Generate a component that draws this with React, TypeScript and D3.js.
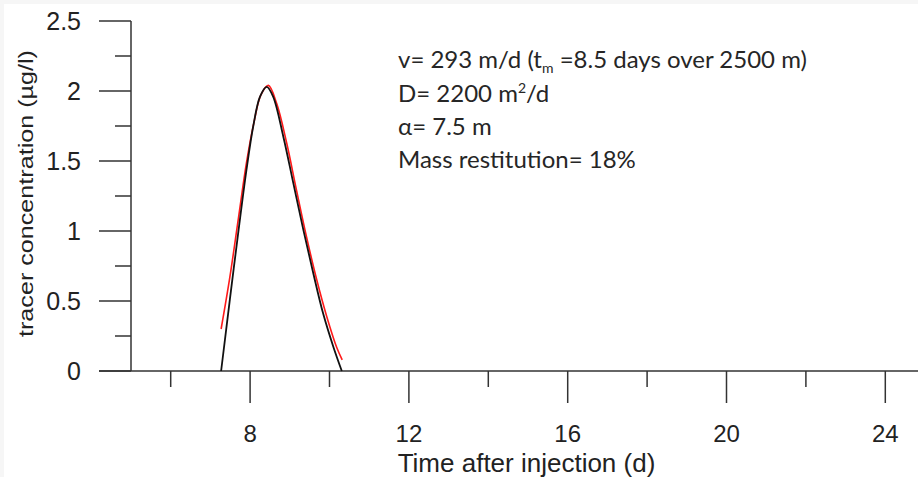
import React from "react";
import * as d3 from "d3";

// Observed (black) and fitted (red) tracer breakthrough curves
const observedT = [7.27, 7.49, 7.68, 7.91, 8.08, 8.25, 8.42, 8.58, 8.84, 9.09, 9.34, 9.59, 9.84, 10.1, 10.31];
const observedC = [0, 0.51, 0.94, 1.44, 1.75, 1.96, 2.03, 1.96, 1.67, 1.34, 1.01, 0.7, 0.41, 0.17, 0];

const fittedT = [7.27, 7.49, 7.7, 7.91, 8.1, 8.27, 8.46, 8.67, 8.92, 9.17, 9.42, 9.68, 9.93, 10.18, 10.32];
const fittedC = [0.3, 0.67, 1.08, 1.49, 1.78, 1.97, 2.04, 1.91, 1.63, 1.29, 0.96, 0.65, 0.39, 0.17, 0.08];

const xMajorTicks = [8, 12, 16, 20, 24];
const xMinorTicks = [6, 10, 14, 18, 22];
const yMajorTicks = [0, 0.5, 1, 1.5, 2, 2.5];
const yMinorTicks = [0.25, 0.75, 1.25, 1.75, 2.25];
const yTickLabels = ["0", "0.5", "1", "1.5", "2", "2.5"];

const xTitle = "Time after injection (d)";
const yTitle = "tracer concentration (µg/l)";

export default function App() {
  const W = 918;
  const H = 477;
  const x = d3.scaleLinear().domain([5, 25]).range([131, 131 + 20 * 39.7]);
  const y = d3.scaleLinear().domain([0, 2.5]).range([371, 21]);

  const line = d3
    .line<[number, number]>()
    .x((d) => x(d[0]))
    .y((d) => y(d[1]))
    .curve(d3.curveCatmullRom.alpha(0.5));

  const obs = observedT.map((t, i) => [t, observedC[i]] as [number, number]);
  const fit = fittedT.map((t, i) => [t, fittedC[i]] as [number, number]);

  const axisColor = "#333";
  const tickFont = "'Liberation Sans', Arial, sans-serif";
  const noteFont = "Lato, 'Open Sans', sans-serif";
  const noteX = 398;

  return (
    <svg
      width={W}
      height={H}
      style={{ position: "absolute", left: 0, top: 0, background: "#fff" }}
    >
      <rect x={0} y={0} width={W} height={4} fill="#f6f6f6" />
      <rect x={0} y={0} width={4} height={H} fill="#f6f6f6" />

      {/* Y axis */}
      <line x1={x(5)} x2={x(5)} y1={y(2.5)} y2={y(0)} stroke={axisColor} strokeWidth={1.5} />
      {yMajorTicks.map((v) => (
        <line key={"ym" + v} x1={99} x2={x(5)} y1={y(v)} y2={y(v)} stroke={axisColor} strokeWidth={1.5} />
      ))}
      {yMinorTicks.map((v) => (
        <line key={"yn" + v} x1={115} x2={x(5)} y1={y(v)} y2={y(v)} stroke={axisColor} strokeWidth={1.5} />
      ))}
      {yMajorTicks.map((v, i) => (
        <text
          key={"yl" + v}
          x={81}
          y={y(v)}
          dy="0.36em"
          textAnchor="end"
          fontFamily={tickFont}
          fontSize={25}
          fill="#222"
        >
          {yTickLabels[i]}
        </text>
      ))}

      {/* X axis */}
      <line x1={99} x2={W} y1={y(0)} y2={y(0)} stroke={axisColor} strokeWidth={1.5} />
      {xMajorTicks.map((v) => (
        <line key={"xm" + v} x1={x(v)} x2={x(v)} y1={y(0)} y2={403} stroke={axisColor} strokeWidth={1.5} />
      ))}
      {xMinorTicks.map((v) => (
        <line key={"xn" + v} x1={x(v)} x2={x(v)} y1={y(0)} y2={387} stroke={axisColor} strokeWidth={1.5} />
      ))}
      {xMajorTicks.map((v) => (
        <text
          key={"xl" + v}
          x={x(v)}
          y={442}
          textAnchor="middle"
          fontFamily={tickFont}
          fontSize={24}
          fill="#222"
        >
          {String(v)}
        </text>
      ))}
      <text
        x={(396 + 657) / 2}
        y={472}
        textAnchor="middle"
        fontFamily={tickFont}
        fontSize={26}
        fill="#222"
      >
        {xTitle}
      </text>
      <text
        transform={`translate(33, ${(50 + 337) / 2}) rotate(-90)`}
        textAnchor="middle"
        fontFamily={tickFont}
        fontSize={21}
        textLength={287}
        lengthAdjust="spacingAndGlyphs"
        fill="#222"
      >
        {yTitle}
      </text>

      {/* Curves */}
      <path d={line(fit) || ""} fill="none" stroke="#ff1a1a" strokeWidth={1.6} />
      <path d={line(obs) || ""} fill="none" stroke="#111" strokeWidth={1.8} />

      {/* Annotation */}
      <g fontFamily={noteFont} fontSize={24} fill="#262626">
        <text x={noteX} y={68}>
          v= 293 m/d (t
          <tspan fontSize={14} dy={5}>m</tspan>
          <tspan dy={-5}> =8.5 days over 2500 m)</tspan>
        </text>
        <text x={noteX} y={102}>
          D= 2200 m
          <tspan fontSize={14} dy={-9}>2</tspan>
          <tspan dy={9}>/d</tspan>
        </text>
        <text x={noteX} y={135}>α= 7.5 m</text>
        <text x={noteX} y={168}>Mass restitution= 18%</text>
      </g>
    </svg>
  );
}
